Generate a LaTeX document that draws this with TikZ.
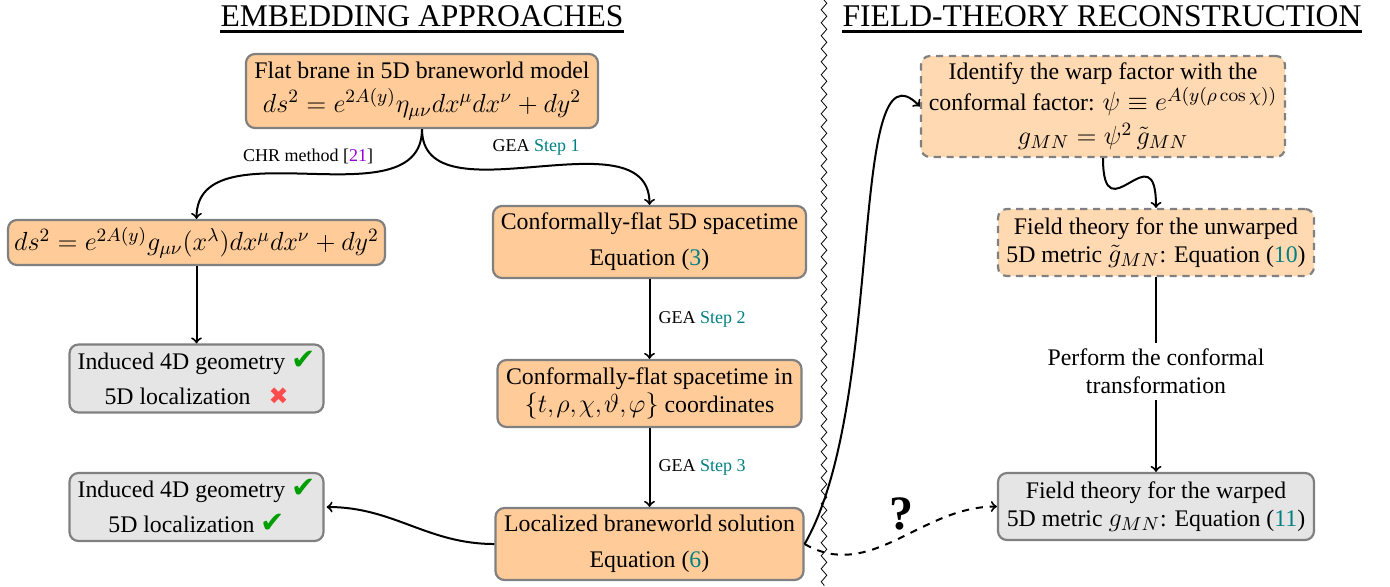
\documentclass[tikz,border=0pt]{standalone}
\usepackage{fix-cm}
\usepackage[no-math]{fontspec}
\setmainfont{Liberation Serif}
\newfontfamily\marksfont{DejaVu Sans}
\DeclareMathSizes{11.9}{13.1}{9.4}{7}
\usetikzlibrary{decorations.pathmorphing}
\definecolor{citepurple}{rgb}{0.6,0,0.85}
\definecolor{checkgreen}{rgb}{0,0.62,0}
\definecolor{crossred}{rgb}{1,0.3,0.3}
\newcommand{\checkyes}{\smash{\textcolor{checkgreen}{\fontsize{14.5}{14}\marksfont ✔}}}
\newcommand{\checkno}{\textcolor{crossred}{\marksfont ✖}}
\newcommand{\eqlink}[1]{(\textcolor{teal}{#1})}
\newcommand{\steplink}[1]{GEA \textcolor{teal}{Step #1}}
\begin{document}
\begin{tikzpicture}[
  x=0.5pt, y=0.5pt,
  block/.style={rectangle, rounded corners=4.5pt, draw=gray, line width=1.1pt, fill=orange!40, font=\fontsize{11.9}{14}\selectfont, align=center, inner sep=0pt},
  planned/.style={block, dash pattern=on 3.6pt off 2.8pt, fill=orange!30},
  outcome/.style={block, fill=gray!20},
  heading/.style={font=\fontsize{15.8}{18}\selectfont, inner sep=0pt},
  steplabel/.style={font=\small, inner sep=0pt},
  flow/.style={->, line width=1pt}
]
\useasboundingbox (0,0) rectangle (1390,-586);

% headings and the divider
\node[heading] (lefthead) at (422,-16) {EMBEDDING APPROACHES};
\node[heading] (righthead) at (1102,-16) {FIELD-THEORY RECONSTRUCTION};
\draw[line width=1.5pt] ([yshift=-2pt]lefthead.south west) -- ([yshift=-2pt]lefthead.south east);
\draw[line width=1.5pt] ([yshift=-2pt]righthead.south west) -- ([yshift=-2pt]righthead.south east);
\coordinate (divtop) at (824,0);
\coordinate (divbot) at (824,-586);
\draw[decorate, decoration={zigzag, segment length=6.5pt, amplitude=1.4pt}] (divtop) -- (divbot);

% left column
\node[block, minimum width=176pt, minimum height=37pt] (flat) at (422,-91) {Flat brane in 5D braneworld model\\[3pt]$ds^2=e^{2A(y)}\eta_{\mu\nu}dx^\mu dx^\nu+dy^2$};
\node[block, minimum width=188.5pt, minimum height=22.5pt] (warped4d) at (196.5,-242.5) {$ds^2=e^{2A(y)}g_{\mu\nu}(x^\lambda)dx^\mu dx^\nu+dy^2$};
\node[outcome, below of=warped4d, node distance=68pt, minimum width=127pt, minimum height=34pt] (fail) {Induced 4D geometry \checkyes\\[3.5pt]5D localization\hspace{9pt}\checkno};

% middle column
\node[block, minimum width=156.5pt, minimum height=36pt] (conf5d) at (649.5,-242) {Conformally-flat 5D spacetime\\[4pt]Equation \eqlink{3}};
\node[block, below of=conf5d, node distance=75.75pt, minimum width=152pt, minimum height=33.5pt] (confcoord) {Conformally-flat spacetime in\\$\thinmuskip=1.5mu\{t,\rho,\chi,\vartheta,\varphi\}$ coordinates};
\node[block, below of=confcoord, node distance=75.25pt, minimum width=154pt, minimum height=36pt] (local) {Localized braneworld solution\\[4pt]Equation \eqlink{6}};
\node[outcome, minimum width=127pt, minimum height=34pt] (success) at (196.5,-507) {Induced 4D geometry \checkyes\\[3.5pt]5D localization \checkyes};

% right column
\node[planned, minimum width=182pt, minimum height=50.5pt] (identify) at (1103,-106.5) {Identify the warp factor with the\\conformal factor: $\psi\equiv e^{A(y(\rho\cos\chi))}$\\[3pt]$g_{MN}=\psi^2\,\tilde g_{MN}$};
\node[planned, minimum width=158pt, minimum height=33.5pt] (unwarped) at (1156,-242.5) {Field theory for the unwarped\\5D metric $\tilde g_{MN}$: Equation \eqlink{10}};
\node[below of=unwarped, node distance=64.5pt, font=\fontsize{11.9}{14}\selectfont, align=center, inner sep=3pt] (perform) {Perform the conformal\\transformation};
\node[outcome, below of=perform, node distance=67.5pt, minimum width=158pt, minimum height=33.5pt] (warped) {Field theory for the warped\\5D metric $g_{MN}$: Equation \eqlink{11}};
\node[font=\fontsize{24}{24}\selectfont\bfseries, inner sep=0pt] (query) at (901,-514) {?};

\draw[flow] (flat.south) to[out=-90, in=90] (warped4d.north);
\draw[flow] (flat.south) to[out=-90, in=90] (conf5d.north);
\node[steplabel] (chrlabel) at (308,-156) {CHR method [\textcolor{citepurple}{21}]};
\node[steplabel] (step1) at (536,-147) {\steplink{1}};

\draw[flow] (warped4d) -- (fail);
\draw[flow] (conf5d) -- (confcoord) node[steplabel, midway, right, xshift=4pt] (step2) {\steplink{2}};
\draw[flow] (confcoord) -- (local) node[steplabel, midway, right, xshift=4pt] (step3) {\steplink{3}};
\draw[flow] (local.west) to[out=180, in=0] ([xshift=1pt]success.east);
\draw[flow] (local.east) to[out=60, in=134, out looseness=.92, in looseness=.59] (identify.west);
\draw[flow] (identify.south) to[out=-90, in=90, looseness=2.8] (unwarped.north);
\draw[line width=1pt] (unwarped) -- (perform);
\draw[flow] (perform) -- (warped);
\draw[flow, dash pattern=on 3.6pt off 3.4pt] (local.east) to[out=-30, in=180] (warped.west);
\end{tikzpicture}
\end{document}
